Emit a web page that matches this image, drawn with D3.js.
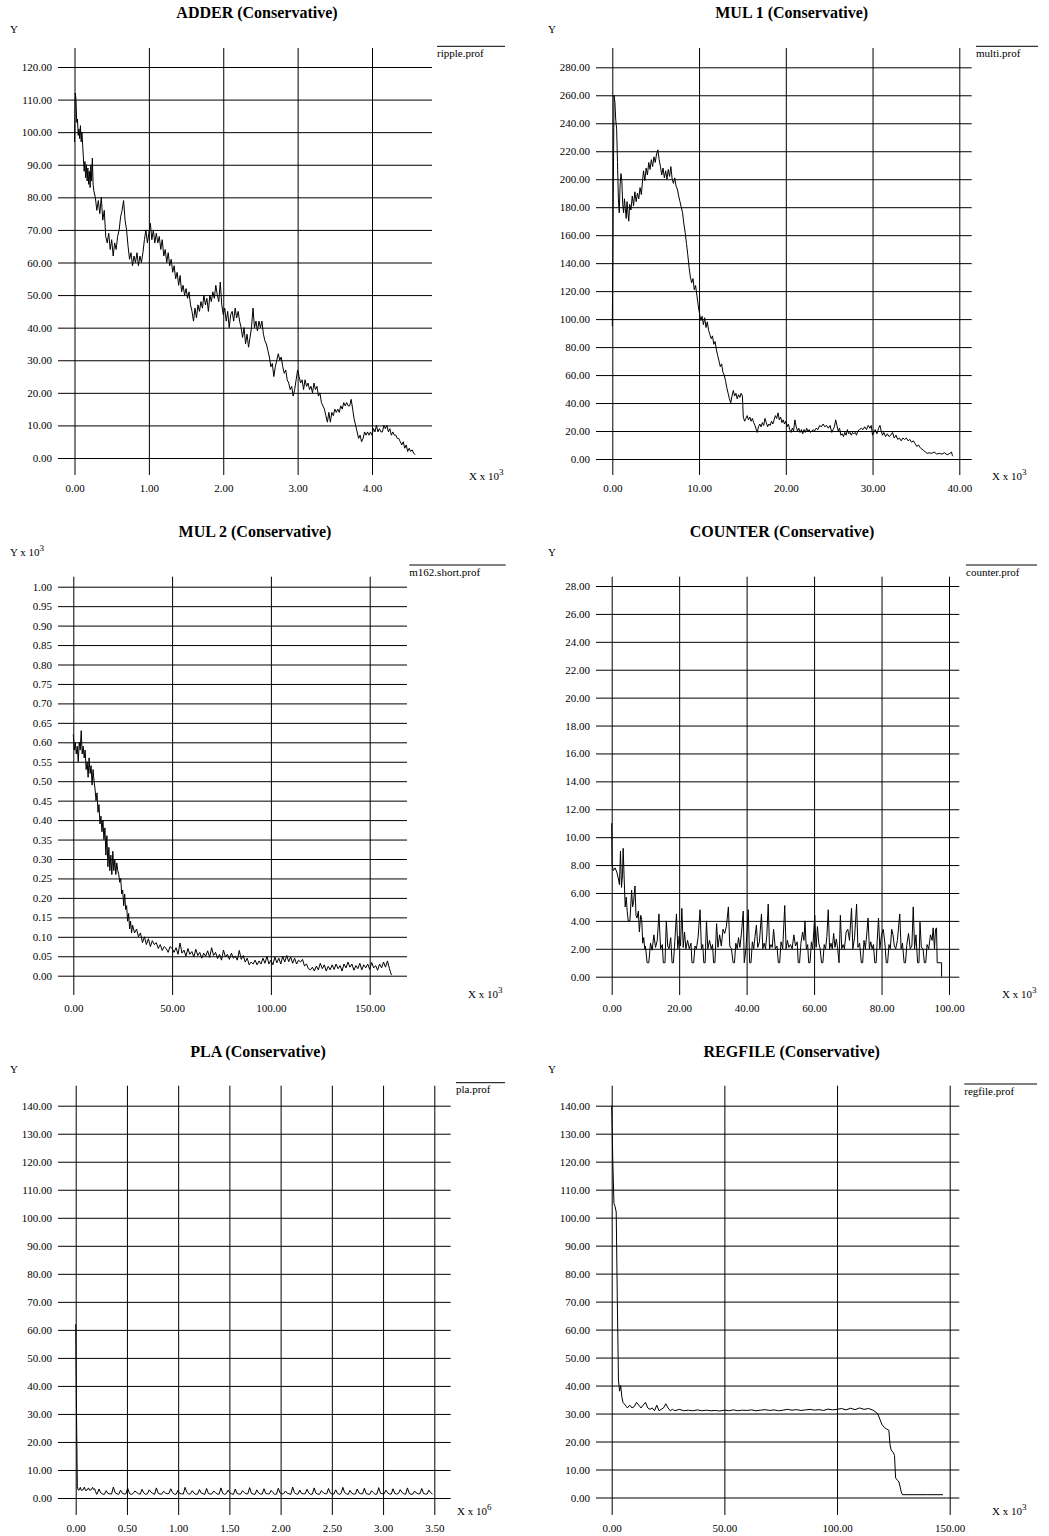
<!DOCTYPE html>
<html>
<head>
<meta charset="utf-8">
<script src="https://cdn.jsdelivr.net/npm/d3@7"></script>
<style>
body { margin: 0; background: #fff; }
svg text { font-family: "Liberation Serif", "Times New Roman", serif; fill: #000; }
.grid line { stroke: #000; stroke-width: 1; }
.grid path { display: none; }
.grid text { font-size: 11px; }
</style>
</head>
<body>
<svg id="chart" width="1049" height="1536"></svg>
<script>

// ---- ADDER (ripple.prof), x in 10^3
const adderXTicks = [0, 1, 2, 3, 4]
const adderYTicks = [0, 10, 20, 30, 40, 50, 60, 70, 80, 90, 100, 110, 120]
const adderData = [
  [0.00,97],[0.01,112],[0.02,110],[0.03,103],[0.04,104],[0.05,99],[0.06,101],[0.07,98],[0.08,102],[0.09,97],
  [0.10,100],[0.11,96],[0.12,92],[0.13,88],[0.14,91],[0.15,86],[0.16,90],[0.17,85],[0.18,89],[0.19,84],
  [0.20,88],[0.21,83],[0.22,90],[0.23,85],[0.24,92],[0.25,84],[0.26,82],[0.28,80],[0.30,76],[0.32,79],
  [0.34,75],[0.36,80],[0.38,73],[0.40,76],[0.42,68],[0.44,66],[0.46,69],[0.48,64],[0.50,67],[0.52,62],
  [0.54,66],[0.56,64],[0.58,68],[0.60,70],[0.62,74],[0.64,76],[0.66,79],[0.68,73],[0.70,70],[0.72,65],
  [0.74,61],[0.76,63],[0.78,59],[0.80,62],[0.82,60],[0.84,63],[0.86,59],[0.88,62],[0.90,60],[0.92,63],
  [0.94,67],[0.96,70],[0.98,66],[1.00,69],[1.02,72],[1.04,67],[1.06,70],[1.08,66],[1.10,69],[1.12,66],
  [1.14,68],[1.16,64],[1.18,67],[1.20,62],[1.22,64],[1.24,60],[1.26,63],[1.28,59],[1.30,61],[1.32,57],
  [1.34,59],[1.36,55],[1.38,57],[1.40,53],[1.42,56],[1.44,51],[1.46,53],[1.48,50],[1.50,52],[1.52,49],
  [1.54,51],[1.56,47],[1.58,45],[1.60,42],[1.62,46],[1.64,43],[1.66,47],[1.68,45],[1.70,48],[1.72,46],
  [1.74,50],[1.76,47],[1.78,49],[1.80,45],[1.82,50],[1.84,48],[1.86,51],[1.88,49],[1.90,53],[1.92,50],
  [1.94,48],[1.96,54],[1.98,47],[2.00,44],[2.02,46],[2.04,42],[2.06,45],[2.08,40],[2.10,44],[2.12,45],
  [2.14,42],[2.16,46],[2.18,43],[2.20,45],[2.22,42],[2.24,40],[2.26,37],[2.28,40],[2.30,35],[2.32,38],
  [2.34,34],[2.36,37],[2.38,40],[2.40,46],[2.42,40],[2.44,42],[2.46,39],[2.48,42],[2.50,40],[2.52,42],
  [2.54,38],[2.56,36],[2.58,35],[2.60,33],[2.62,31],[2.64,28],[2.66,29],[2.68,25],[2.70,28],[2.72,30],
  [2.74,32],[2.76,30],[2.78,31],[2.80,28],[2.82,26],[2.84,27],[2.86,24],[2.88,23],[2.90,21],[2.92,22],
  [2.94,19],[2.96,21],[2.98,24],[3.00,27],[3.02,25],[3.04,23],[3.06,24],[3.08,21],[3.10,24],[3.12,22],
  [3.14,23],[3.16,21],[3.18,22],[3.20,20],[3.22,23],[3.24,21],[3.26,22],[3.28,19],[3.30,20],[3.32,17],
  [3.34,16],[3.36,15],[3.38,13],[3.40,11],[3.42,14],[3.44,11],[3.46,14],[3.48,13],[3.50,15],[3.52,14],
  [3.54,15],[3.56,14],[3.58,16],[3.60,15],[3.62,17],[3.64,16],[3.66,17],[3.68,16],[3.70,16],[3.72,18],
  [3.74,15],[3.76,12],[3.78,10],[3.80,8],[3.82,6],[3.84,7],[3.86,5],[3.88,6],[3.90,8],[3.92,7],
  [3.94,8],[3.96,7],[3.98,8],[4.00,7],[4.02,9],[4.04,8],[4.06,10],[4.08,8],[4.10,9],[4.12,8],
  [4.14,8],[4.16,10],[4.18,9],[4.20,10],[4.22,8],[4.24,9],[4.26,7],[4.28,8],[4.30,7],[4.32,7],
  [4.34,6],[4.36,6],[4.38,5],[4.40,4],[4.42,5],[4.44,3],[4.46,4],[4.48,2],[4.50,3],[4.52,2],
  [4.54,2.5],[4.56,1.5],[4.58,1]
]

// ---- MUL 1 (multi.prof), x in 10^3
const mul1XTicks = [0, 10, 20, 30, 40]
const mul1YTicks = [0, 20, 40, 60, 80, 100, 120, 140, 160, 180, 200, 220, 240, 260, 280]
const mul1Data = [
  [0.0,95],[0.1,180],[0.2,260],[0.3,255],[0.4,242],[0.5,236],[0.6,212],[0.7,186],[0.8,176],[0.9,196],
  [1.0,204],[1.1,199],[1.2,182],[1.3,176],[1.4,186],[1.5,179],[1.6,172],[1.7,184],[1.8,176],[1.9,170],
  [2.0,182],[2.15,178],[2.3,188],[2.45,181],[2.6,191],[2.75,184],[2.9,190],[3.05,186],[3.2,194],[3.35,189],
  [3.5,200],[3.6,206],[3.75,199],[3.9,208],[4.05,203],[4.2,212],[4.35,207],[4.5,214],[4.65,209],[4.8,216],
  [4.95,212],[5.1,218],[5.25,221],[5.4,214],[5.55,209],[5.7,203],[5.85,208],[6.0,201],[6.15,206],[6.3,200],
  [6.45,207],[6.6,202],[6.75,209],[6.9,200],[7.05,197],[7.2,201],[7.35,195],[7.5,193],[7.65,188],[7.8,184],
  [7.95,180],[8.1,176],[8.25,168],[8.4,162],[8.55,154],[8.7,146],[8.85,137],[9.0,130],[9.15,126],[9.3,129],
  [9.45,121],[9.6,124],[9.75,117],[9.9,110],[10.05,104],[10.2,99],[10.35,102],[10.5,96],[10.65,101],[10.8,94],
  [10.95,98],[11.1,92],[11.25,89],[11.4,86],[11.55,88],[11.7,82],[11.85,84],[12.0,78],[12.15,74],[12.3,70],
  [12.45,66],[12.6,68],[12.75,62],[12.9,60],[13.05,56],[13.2,51],[13.35,47],[13.5,43],[13.65,40],[13.8,45],
  [13.95,49],[14.1,45],[14.25,47],[14.4,43],[14.55,46],[14.7,44],[14.85,47],[15.0,45],[15.1,30],[15.25,27],
  [15.4,29],[15.55,31],[15.7,28],[15.85,30],[16.0,27],[16.15,29],[16.3,26],[16.45,24],[16.6,21],[16.7,19],
  [16.85,23],[17.0,25],[17.15,23],[17.3,26],[17.45,24],[17.6,29],[17.75,26],[17.9,23],[18.05,25],[18.2,24],
  [18.35,27],[18.5,25],[18.65,28],[18.8,31],[18.95,29],[19.1,33],[19.25,28],[19.4,30],[19.55,26],[19.7,28],
  [19.85,25],[20.0,27],[20.15,23],[20.3,25],[20.45,21],[20.6,19],[20.75,22],[20.9,20],[21.05,28],[21.2,23],
  [21.35,20],[21.5,22],[21.65,19],[21.8,21],[21.95,18],[22.1,21],[22.25,19],[22.4,22],[22.55,20],[22.7,21],
  [22.85,19],[23.0,20],[23.15,21],[23.3,20],[23.5,22],[23.7,21],[23.9,24],[24.1,23],[24.3,25],[24.5,23],
  [24.7,24],[24.9,22],[25.1,24],[25.3,19],[25.45,21],[25.6,23],[25.75,28],[25.9,24],[26.05,20],[26.2,22],
  [26.35,17],[26.5,18],[26.65,16],[26.8,19],[26.95,17],[27.1,21],[27.25,18],[27.4,19],[27.55,17],[27.7,19],
  [27.85,18],[28.0,19],[28.15,17],[28.3,20],[28.5,21],[28.7,22],[28.9,21],[29.1,23],[29.3,21],[29.5,24],
  [29.7,22],[29.85,24],[30.0,17],[30.15,19],[30.3,21],[30.5,18],[30.7,22],[30.85,24],[31.0,20],[31.15,17],
  [31.3,19],[31.5,16],[31.7,18],[31.9,16],[32.1,17],[32.3,19],[32.5,15],[32.7,17],[32.9,14],[33.1,15],
  [33.3,13],[33.5,15],[33.7,14],[33.9,15],[34.1,13],[34.3,14],[34.5,12],[34.7,13],[34.9,11],[35.1,9],
  [35.3,10],[35.5,8],[35.7,7],[35.9,6],[36.1,5],[36.3,4],[36.5,4.5],[36.8,4],[37.1,5],[37.4,3.5],
  [37.7,4],[38.0,3.5],[38.3,4.5],[38.6,3],[38.9,4],[39.1,5],[39.2,2.5],[39.3,2]
]

// ---- MUL 2 (m162.short.prof), x in 10^3, y in 10^3
const mul2XTicks = [0, 50, 100, 150]
const mul2YTicks = [0, 0.05, 0.10, 0.15, 0.20, 0.25, 0.30, 0.35, 0.40, 0.45, 0.50,
                    0.55, 0.60, 0.65, 0.70, 0.75, 0.80, 0.85, 0.90, 0.95, 1.00]
const mul2Data = [
  [0,0.62],[0.5,0.58],[1,0.60],[1.5,0.57],[2,0.59],[2.5,0.55],[3,0.60],[3.5,0.58],[4,0.63],[4.5,0.57],
  [5,0.59],[5.5,0.56],[6,0.58],[6.5,0.53],[7,0.55],[7.5,0.51],[8,0.56],[8.5,0.52],[9,0.54],[9.5,0.49],
  [10,0.53],[10.5,0.50],[11,0.48],[11.5,0.45],[12,0.47],[12.5,0.42],[13,0.44],[13.5,0.39],[14,0.41],[14.5,0.37],
  [15,0.40],[15.5,0.35],[16,0.38],[16.5,0.31],[17,0.36],[17.5,0.28],[18,0.33],[18.5,0.27],[19,0.31],[19.5,0.26],
  [20,0.32],[20.5,0.27],[21,0.30],[21.5,0.26],[22,0.29],[22.5,0.27],[23,0.26],[23.5,0.24],[24,0.25],[24.5,0.21],
  [25,0.22],[25.5,0.18],[26,0.21],[26.5,0.17],[27,0.18],[27.5,0.14],[28,0.16],[28.5,0.12],[29,0.14],[29.5,0.11],
  [30,0.13],[31,0.11],[32,0.12],[33,0.10],[34,0.11],[35,0.085],[36,0.10],[37,0.08],[38,0.095],[39,0.075],
  [40,0.09],[41,0.08],[42,0.085],[43,0.07],[44,0.08],[45,0.065],[46,0.075],[47,0.07],[48,0.06],[49,0.075],
  [50,0.07],[51,0.060],[52,0.072],[53,0.055],[54,0.084],[55,0.058],[56,0.066],[57,0.050],[58,0.070],[59,0.055],
  [60,0.062],[61,0.048],[62,0.068],[63,0.052],[64,0.060],[65,0.045],[66,0.058],[67,0.050],[68,0.064],[69,0.047],
  [70,0.072],[71,0.052],[72,0.060],[73,0.044],[74,0.055],[75,0.040],[76,0.066],[77,0.048],[78,0.055],[79,0.042],
  [80,0.058],[81,0.045],[82,0.050],[83,0.040],[84,0.065],[85,0.042],[86,0.052],[87,0.035],[88,0.045],[89,0.028],
  [90,0.035],[91,0.030],[92,0.040],[93,0.028],[94,0.038],[95,0.030],[96,0.045],[97,0.032],[98,0.050],[99,0.030],
  [100,0.040],[101,0.028],[102,0.048],[103,0.033],[104,0.045],[105,0.030],[106,0.050],[107,0.035],[108,0.052],[109,0.036],
  [110,0.048],[111,0.032],[112,0.045],[113,0.030],[114,0.040],[115,0.035],[116,0.042],[117,0.025],[118,0.030],[119,0.018],
  [120,0.015],[121,0.022],[122,0.012],[123,0.025],[124,0.015],[125,0.032],[126,0.018],[127,0.028],[128,0.012],[129,0.024],
  [130,0.015],[131,0.028],[132,0.016],[133,0.030],[134,0.018],[135,0.026],[136,0.012],[137,0.030],[138,0.020],[139,0.035],
  [140,0.022],[141,0.030],[142,0.014],[143,0.026],[144,0.018],[145,0.032],[146,0.015],[147,0.028],[148,0.020],[149,0.030],
  [150,0.016],[151,0.034],[152,0.020],[153,0.026],[154,0.014],[155,0.030],[156,0.020],[157,0.035],[158,0.022],[159,0.038],
  [160,0.018],[160.5,0.010],[161,0.002]
]

// ---- COUNTER (counter.prof), x in 10^3
const counterXTicks = [0, 20, 40, 60, 80, 100]
const counterYTicks = [0, 2, 4, 6, 8, 10, 12, 14, 16, 18, 20, 22, 24, 26, 28]
const counterData = [
  [0,11],[0.1,8.0],[0.5,7.6],[1.0,7.8],[1.5,7.5],[2.0,7.0],[2.3,6.6],[2.6,9.0],[2.9,6.4],[3.2,7.3],
  [3.4,9.2],[3.7,7.0],[4.0,5.0],[4.3,5.7],[4.6,4.7],[4.9,4.0],[5.4,4.0],[5.9,6.2],[6.2,5.0],[6.5,5.4],
  [6.9,6.5],[7.2,4.4],[7.5,4.2],[7.9,4.7],[8.2,3.2],[8.6,4.4],[8.9,4.1],[9.2,2.4],[9.5,2.8],[9.8,2.0],
  [10,2.2],[10.5,1],[11,1],[11.5,2.4],[12,1.9],[12.5,3.0],[13,2.1],[13.5,2.6],[14,4.5],[14.5,2.0],
  [15,2.3],[15.3,1],[15.8,1],[16.2,4.0],[16.6,2.2],[17,2.0],[17.5,2.8],[17.9,1],[18.3,1],[18.7,2.5],
  [19.2,4.5],[19.6,2.0],[20,2.9],[20.4,2.2],[20.8,4.9],[21.2,2.1],[21.6,3.2],[22,2.0],[22.5,2.6],[23,2.0],
  [23.5,2.4],[23.8,1],[24.3,1],[24.7,2.2],[25.1,2.0],[25.6,2.8],[26.2,4.8],[26.6,2.0],[27,2.3],[27.3,1],
  [27.7,1],[28.1,4.0],[28.5,2.0],[29,2.6],[29.5,2.0],[29.9,2.3],[30.2,1],[30.6,1],[31.1,3.8],[31.5,2.1],
  [32,3.0],[32.5,2.2],[33,3.4],[33.5,3.1],[34,3.6],[34.6,5.0],[35,2.2],[35.5,2.0],[36,1],[36.4,1],
  [36.8,2.4],[37.2,2.0],[37.6,2.8],[38,2.1],[38.5,3.2],[39,4.7],[39.3,1],[39.8,2.0],[40.5,4.8],[40.9,1],
  [41.3,1],[41.7,2.5],[42.1,2.0],[42.5,2.9],[42.9,3.7],[43.3,2.1],[43.8,2.5],[44.4,4.5],[44.8,2.0],[45.2,2.4],
  [45.6,2.0],[46,3.0],[46.4,5.2],[46.8,2.0],[47.2,2.3],[47.6,2.1],[48,3.4],[48.5,2.0],[49,2.2],[49.4,1],
  [49.8,1],[50.2,2.5],[50.7,2.0],[51.3,5.1],[51.7,2.0],[52.1,2.6],[52.5,2.1],[53,2.3],[53.5,2.0],[54,3.0],
  [54.5,2.2],[55,2.5],[55.3,1],[55.7,1],[56.1,2.4],[56.6,3.2],[57,2.6],[57.3,4.0],[57.7,2.0],[58.1,2.3],
  [58.4,1],[58.8,1],[59.2,2.5],[59.6,2.0],[60.2,4.4],[60.6,2.1],[61,3.6],[61.4,2.4],[61.8,2.0],[62.2,1],
  [62.6,1],[63,2.3],[63.4,2.0],[63.8,2.9],[64.2,4.8],[64.6,2.0],[65,2.4],[65.4,2.0],[65.8,3.1],[66.2,2.1],
  [66.6,2.7],[67,2.0],[67.4,1],[67.8,4.4],[68.2,2.0],[68.6,2.3],[69,2.0],[69.5,3.2],[70,3.4],[70.5,2.6],
  [71.1,4.9],[71.5,2.0],[72,2.8],[72.6,5.2],[73,2.1],[73.5,2.4],[74,1],[74.4,1],[74.8,2.6],[75.2,2.0],
  [75.6,3.0],[76,4.2],[76.4,2.0],[76.8,2.5],[77.2,2.0],[77.6,2.3],[78,1],[78.4,1],[78.7,2.5],[79.1,4.2],
  [79.5,2.0],[80,3.0],[80.5,3.4],[81,2.4],[81.4,1],[81.8,1],[82.2,2.3],[82.6,2.0],[83,3.4],[83.4,3.0],
  [83.8,2.2],[84.2,2.0],[84.7,2.6],[85.4,4.5],[85.8,2.0],[86.2,2.4],[86.7,1],[87.1,1],[87.5,2.3],[88,3.1],
  [88.5,2.0],[89,2.2],[89.4,5.0],[89.8,2.0],[90.2,3.0],[90.7,1],[91.1,1],[91.4,3.9],[91.8,2.1],[92.3,2.0],
  [92.7,1],[93.1,1],[93.5,2.3],[94,2.0],[94.5,3.0],[95,2.6],[95.3,3.5],[95.7,2.0],[96,3.4],[96.3,3.5],
  [96.5,1],[97.8,1],[97.8,0]
]

// ---- PLA (pla.prof), x in 10^6
const plaXTicks = [0, 0.5, 1, 1.5, 2, 2.5, 3, 3.5]
const plaYTicks = [0, 10, 20, 30, 40, 50, 60, 70, 80, 90, 100, 110, 120, 130, 140]
const plaHead = [
  [0,62],[0.008,30],[0.016,4],[0.025,2.8],[0.035,2.9],[0.045,3.8],[0.055,2.7],[0.07,2.9],[0.085,3.9],[0.095,2.7],
  [0.11,2.8],[0.125,3.6],[0.135,2.8],[0.15,2.9],[0.165,3.8],[0.175,3.0],[0.185,3.3],[0.195,2.2],[0.205,1.3]
]
// after 0.21 the profile is sampled every 0.0175
const plaTailStart = 0.21
const plaTailStep = 0.0175
const plaTail = [
  1.5,3.2,1.8,1.4, 1.3,2.6,1.6,1.5, 1.4,3.9,1.9,1.5, 1.3,2.8,1.7,1.4, 1.5,3.5,1.6,1.3,
  1.6,2.5,2.0,1.5, 1.4,3.1,1.8,1.3, 1.5,2.9,2.1,1.6, 1.3,3.6,1.7,1.4, 1.4,2.4,1.8,1.5,
  1.6,3.3,1.9,1.4, 1.3,2.7,1.6,1.5, 1.4,3.8,2.0,1.4, 1.5,2.6,1.7,1.3, 1.4,3.0,1.8,1.5,
  1.3,3.4,1.6,1.4, 1.5,2.5,1.9,1.4, 1.4,3.6,1.7,1.3, 1.6,2.8,1.8,1.5, 1.3,3.2,1.6,1.4,
  1.4,2.6,2.0,1.5, 1.5,3.7,1.7,1.4, 1.3,2.9,1.8,1.4, 1.4,3.3,1.6,1.5, 1.5,2.7,1.9,1.3,
  1.4,3.5,1.8,1.4, 1.6,2.5,1.7,1.5, 1.3,3.9,1.9,1.4, 1.4,2.8,1.6,1.5, 1.5,3.1,1.8,1.3,
  1.4,3.6,1.7,1.4, 1.3,2.6,2.0,1.5, 1.5,3.4,1.8,1.4, 1.4,2.9,1.6,1.3, 1.6,3.8,1.9,1.5,
  1.3,2.7,1.7,1.4, 1.4,3.2,1.8,1.5, 1.5,3.5,1.6,1.4, 1.3,2.6,1.9,1.3, 1.4,3.7,1.7,1.5,
  1.5,2.8,1.8,1.4, 1.4,3.3,1.6,1.4, 1.6,3.0,2.0,1.5, 1.3,3.6,1.7,1.3, 1.4,2.5,1.8,1.5,
  1.5,3.4,1.6,1.4, 1.4,2.8,1.9,1.4
]
const plaData = plaHead.concat(plaTail.map((v, i) => [plaTailStart + i * plaTailStep, v]))

// ---- REGFILE (regfile.prof), x in 10^3
const regXTicks = [0, 50, 100, 150]
const regYTicks = [0, 10, 20, 30, 40, 50, 60, 70, 80, 90, 100, 110, 120, 130, 140]
const regData = [
  [0,140],[0.5,120],[1,105],[1.5,104],[2,102],[2.5,70],[3,42],[3.5,38],[4,40],[4.5,36],
  [5,34],[6,33],[7,32],[8,33],[9,32],[10,32.5],[11,34],[12,33],[13,32],[14,33],
  [15,34],[16,32],[17,31.5],[18,32],[19,31],[20,33],[21,31],[22,31.5],[23,32],[24,33.5],
  [25,32],[26,31],[27,31.5],[28,31],[30,31.5],[32,31],[34,31.2],[36,31],[38,31.3],[40,31],
  [42,31.2],[44,31],[46,31.1],[48,30.9],[50,31.2],[52,31],[54,31.3],[56,31],[58,31.2],[60,31.1],
  [62,31.3],[64,31],[66,31.2],[68,31.4],[70,31.1],[72,31.3],[74,31],[76,31.2],[78,31.5],[80,31.2],
  [82,31.4],[84,31.1],[86,31.3],[88,31.5],[90,31.2],[92,31.4],[94,31.1],[96,31.6],[98,31.3],[100,31.5],
  [102,31.8],[104,31.3],[106,31.9],[108,31.4],[110,32],[112,31.5],[114,31.8],[116,31.2],[118,30],[119,28],
  [120,26],[121,25],[122,24.5],[123,24],[123.5,19],[124,17],[125,16],[125.5,15],[126,7],[127,6],
  [127.5,5.5],[128.5,2],[129,1],[135,1],[140,1],[147,1]
]

const svg = d3.select('#chart')
const fmt2 = d3.format('.2f')

function drawPanel(p) {
    const xScale = d3.scaleLinear().domain([0, d3.max(p.xTicks)]).range(p.xRange)
    const yScale = d3.scaleLinear().domain([0, d3.max(p.yTicks)]).range(p.yRange)

    const chart = svg.append('g')

    // horizontal grid + Y tick labels
    chart.append('g')
        .attr('class', 'grid')
        .attr('transform', `translate(${p.hLine[1]}, 0)`)
        .call(d3.axisLeft(yScale)
            .tickValues(p.yTicks)
            .tickSize(p.hLine[1] - p.hLine[0])
            .tickPadding(6)
            .tickFormat(fmt2))

    // vertical grid + X tick labels
    chart.append('g')
        .attr('class', 'grid')
        .attr('transform', `translate(0, ${p.vLine[1]})`)
        .call(d3.axisBottom(xScale)
            .tickValues(p.xTicks)
            .tickSize(-(p.vLine[1] - p.vLine[0]))
            .tickPadding(9)
            .tickFormat(fmt2))

    // profile curve
    chart.append('path')
        .datum(p.data)
        .attr('fill', 'none')
        .attr('stroke', '#000')
        .attr('stroke-width', 1)
        .attr('d', d3.line().x(d => xScale(d[0])).y(d => yScale(d[1])))

    // title
    chart.append('text')
        .attr('x', p.title[1])
        .attr('y', p.title[2])
        .attr('text-anchor', 'middle')
        .style('font-size', '16px')
        .style('font-weight', 'bold')
        .text(p.title[0])

    // Y label
    const yl = chart.append('text')
        .attr('x', p.yLabel[1])
        .attr('y', p.yLabel[2])
        .style('font-size', '11px')
        .text(p.yLabel[0])
    if (p.yLabel[3]) {
        yl.append('tspan').attr('dy', -5).style('font-size', '9px').text(p.yLabel[3])
    }

    // X label
    chart.append('text')
        .attr('x', p.xLabel[0])
        .attr('y', p.xLabel[1])
        .style('font-size', '11px')
        .text('X x 10')
        .append('tspan').attr('dy', -5).style('font-size', '9px').text(p.xLabel[2])

    // legend
    chart.append('line')
        .attr('x1', p.legend[1]).attr('x2', p.legend[2])
        .attr('y1', p.legend[3]).attr('y2', p.legend[3])
        .attr('stroke', '#000')
    chart.append('text')
        .attr('x', p.legend[1])
        .attr('y', p.legend[3] + 10.5)
        .style('font-size', '11px')
        .text(p.legend[0])
}

drawPanel({
    data: adderData, xTicks: adderXTicks, yTicks: adderYTicks,
    xRange: [74.5, 372], yRange: [458, 67], hLine: [58, 432], vLine: [48, 475],
    title: ['ADDER (Conservative)', 257, 18], yLabel: ['Y', 10, 33],
    xLabel: [469, 480, '3'], legend: ['ripple.prof', 437, 505, 46.3]
})
drawPanel({
    data: mul1Data, xTicks: mul1XTicks, yTicks: mul1YTicks,
    xRange: [612.3, 959.3], yRange: [459, 67.3], hLine: [596, 971.7], vLine: [48, 475],
    title: ['MUL 1 (Conservative)', 791.7, 18], yLabel: ['Y', 548, 33],
    xLabel: [992, 480, '3'], legend: ['multi.prof', 976, 1038, 46.3]
})
drawPanel({
    data: mul2Data, xTicks: mul2XTicks, yTicks: mul2YTicks,
    xRange: [73.3, 369.7], yRange: [975.7, 586.7], hLine: [58, 407], vLine: [576.7, 995],
    title: ['MUL 2 (Conservative)', 255, 537], yLabel: ['Y x 10', 10, 556, '3'],
    xLabel: [468, 998, '3'], legend: ['m162.short.prof', 409.3, 505.7, 565]
})
drawPanel({
    data: counterData, xTicks: counterXTicks, yTicks: counterYTicks,
    xRange: [611.7, 949], yRange: [976.7, 586], hLine: [596, 959.3], vLine: [576.7, 995],
    title: ['COUNTER (Conservative)', 782, 537], yLabel: ['Y', 548, 556],
    xLabel: [1002, 998, '3'], legend: ['counter.prof', 966, 1037, 565]
})
drawPanel({
    data: plaData, xTicks: plaXTicks, yTicks: plaYTicks,
    xRange: [75.7, 434.3], yRange: [1498, 1105.7], hLine: [58, 450.7], vLine: [1085.7, 1515],
    title: ['PLA (Conservative)', 258, 1057], yLabel: ['Y', 10, 1073],
    xLabel: [457, 1515, '6'], legend: ['pla.prof', 456, 505, 1082.7]
})
drawPanel({
    data: regData, xTicks: regXTicks, yTicks: regYTicks,
    xRange: [611.7, 949.7], yRange: [1497.5, 1105.7], hLine: [596, 959.3], vLine: [1085.7, 1515],
    title: ['REGFILE (Conservative)', 791.7, 1057], yLabel: ['Y', 548, 1073],
    xLabel: [992, 1515, '3'], legend: ['regfile.prof', 964.3, 1037, 1084]
})

</script>
</body>
</html>
